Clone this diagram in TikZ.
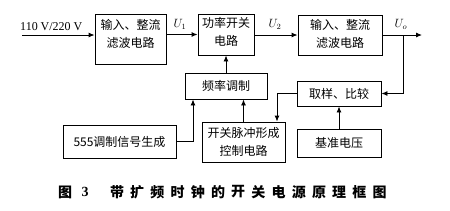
\documentclass[tikz,border=0pt]{standalone}
\usepackage{fontspec}
\setmainfont{Liberation Serif}
\newfontfamily\cjk{Noto Sans CJK SC}
\usetikzlibrary{arrows.meta,calc}
\tikzset{
  blk/.style={draw, line width=0.9pt, inner sep=0pt},
  txt/.style={inner sep=0pt, align=center, font=\cjk\fontsize{12}{18}\selectfont},
  lbl/.style={inner sep=0pt, font=\fontsize{12}{14}\selectfont},
  arr/.style={line width=0.9pt, -{Latex[length=6pt,width=5pt]}},
  captxt/.style={inner sep=0pt, font=\cjk\bfseries\fontsize{14}{14}\selectfont},
}
\begin{document}
\begin{tikzpicture}[x=1pt,y=-1pt]
\useasboundingbox (0,0) rectangle (450,210);
% boxes
\node[blk, minimum width=71, minimum height=50] (b1) at (130.5,39) {};
\node[txt] (t1) at (130.5,34) {输入、整流\\滤波电路};
\node[blk, minimum width=56, minimum height=41] (b2) at (226,34.5) {};
\node[txt] (t2) at (226,32) {功率开关\\电路};
\node[blk, minimum width=84, minimum height=40] (b3) at (340,35) {};
\node[txt] (t3) at (340,34) {输入、整流\\滤波电路};
\node[blk, minimum width=82, minimum height=26] (fm) at (226,86) {};
\node[txt] (t4) at (226,86) {频率调制};
\node[blk, minimum width=113, minimum height=33] (gen) at (119.5,141.5) {};
\node[txt] (t5) at (119.5,141.5) {555调制信号生成};
\node[blk, minimum width=83, minimum height=40] (sw) at (243.5,142) {};
\node[txt] (t6) at (243.5,142) {开关脉冲形成\\控制电路};
\node[blk, minimum width=84, minimum height=25] (cmp) at (339,93.5) {};
\node[txt] (t7) at (339,93.5) {取样、比较};
\node[blk, minimum width=84, minimum height=28] (ref) at (339,143) {};
\node[txt] (t8) at (339,143) {基准电压};
% input / output
\coordinate (in) at (22,35);
\node[lbl, anchor=south west] (vin) at (20,31) {110 V/220 V};
\draw[arr] (in) -- (in -| b1.west);
\draw[arr] (b1.east |- b2.west) -- (b2.west);
\node[lbl] (u1) at (180,24) {$U_1$};
\draw[arr] (b2.east |- b3.west) -- (b3.west);
\node[lbl] (u2) at (275,24) {$U_2$};
\coordinate (out) at (422,35);
\draw[arr] (b3.east) -- (out);
\node[lbl] (uo) at (401,24) {$U_o$};
% feedback
\coordinate (tap) at (403,35);
\draw[arr] (tap) |- (cmp.east);
\draw[arr] (cmp.west) -| ([xshift=33.5pt]sw.north);
\draw[arr] (ref.north) -- (cmp.south);
\draw[arr] (sw.north) -- (sw.north |- fm.south);
\draw[arr] (fm.north) -- (b2.south);
\draw[arr] (gen.east) -| ([xshift=-33pt]fm.south);
% caption
\node[captxt] (c0) at (65,192) {图};
\node[captxt, font=\bfseries\fontsize{14}{14}\selectfont] (c1) at (85,192) {3};
\foreach \ch [count=\i from 0] in {带,扩,频,时,钟,的,开,关,电,源,原,理,框,图}
  \node[captxt] (cc\i) at (117+20.2*\i,192) {\ch};
\end{tikzpicture}
\end{document}
